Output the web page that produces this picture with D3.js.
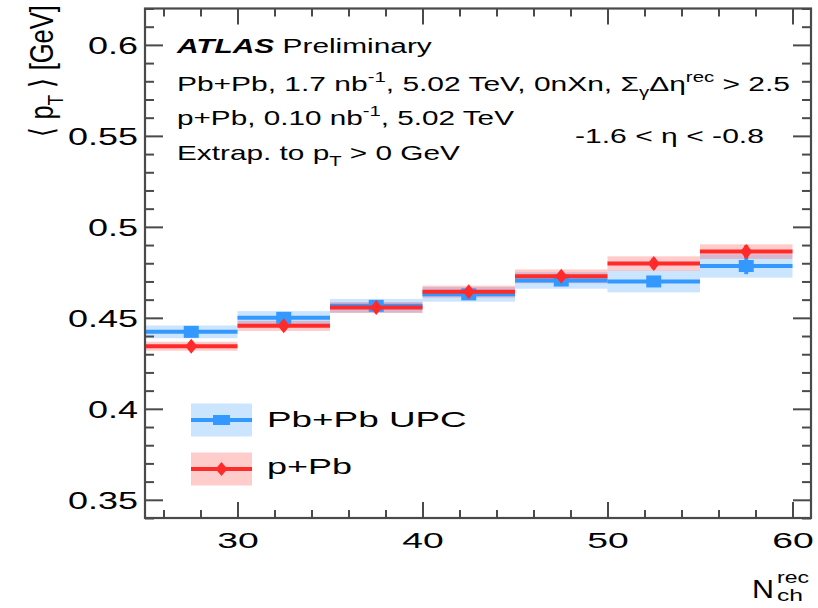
<!DOCTYPE html>
<html><head><meta charset="utf-8">
<script src="https://cdn.jsdelivr.net/npm/d3@7"></script>
<style>
body{margin:0;background:#fff}
svg{display:block}
text{font-family:"Liberation Sans",Arial,Helvetica,sans-serif;fill:#000}
</style>
</head><body>
<svg id="c" width="818" height="608"></svg>
<script>
// ---------- data ----------
const binLo = [25, 30, 35, 40, 45, 50, 55];
const binHi = [30, 35, 40, 45, 50, 55, 60];
const upcMean = [0.4423, 0.4500, 0.4566, 0.4629, 0.4705, 0.4700, 0.4785];
const upcSyst = [0.0035, 0.0037, 0.0038, 0.0040, 0.0045, 0.0060, 0.0064];
const upcStat = [0.0010, 0.0010, 0.0012, 0.0014, 0.0018, 0.0025, 0.0045];
const ppbMean = [0.4344, 0.4456, 0.4557, 0.4644, 0.4728, 0.4798, 0.4864];
const ppbSyst = [0.0025, 0.0028, 0.0030, 0.0033, 0.0038, 0.0040, 0.0040];
const ppbStat = [0.0015, 0.0015, 0.0018, 0.0020, 0.0025, 0.0030, 0.0035];
const seriesNames = ["Pb+Pb UPC", "p+Pb"];
const xTickValues = [30, 40, 50, 60];
const xTickLabels = ["30", "40", "50", "60"];
const yTickValues = [0.35, 0.4, 0.45, 0.5, 0.55, 0.6];
const yTickLabels = ["0.35", "0.4", "0.45", "0.5", "0.55", "0.6"];

// ---------- layout ----------
const svg = d3.select("#c");
const L = 145, R = 811, T = 8.5, B = 518;
const x = d3.scaleLinear().domain([25, 61]).range([L, R]);
const y = d3.scaleLinear().domain([0.34, 0.62]).range([B, T]);
const axisCol = "#4a4a4a";
const blue = "#3399ff", red = "#ff2b2b";

svg.append("defs").append("clipPath").attr("id", "plotclip")
  .append("rect").attr("x", L).attr("y", T).attr("width", R - L).attr("height", B - T);

// rich text helper
function rich(parent, parts, size) {
  const t = parent.append("text").attr("font-size", size);
  let cur = 0;
  parts.forEach(p => {
    const shift = p.s === "sup" ? -0.42 * size : p.s === "sub" ? 0.3 * size : 0;
    const ts = t.append("tspan").text(p.t).attr("dy", shift - cur);
    if (p.s) ts.attr("font-size", size * 0.68);
    if (p.b) ts.attr("font-weight", "bold").attr("font-style", "italic");
    cur = shift;
  });
  return t;
}
function fitted(parts, size, x0, base, targetW) {
  const g = svg.append("g");
  const t = rich(g, parts, size);
  const w = t.node().getBBox().width;
  g.attr("transform", `translate(${x0},${base}) scale(${targetW / w},1)`);
  return g;
}

// ---------- data layer ----------
const plot = svg.append("g").attr("clip-path", "url(#plotclip)");
const idx = d3.range(binLo.length);

// bands
plot.selectAll("rect.bu").data(idx).join("rect")
  .attr("x", i => x(binLo[i])).attr("width", i => x(binHi[i]) - x(binLo[i]))
  .attr("y", i => y(upcMean[i] + upcSyst[i]))
  .attr("height", i => y(upcMean[i] - upcSyst[i]) - y(upcMean[i] + upcSyst[i]))
  .attr("fill", blue).attr("fill-opacity", 0.25);
plot.selectAll("rect.br").data(idx).join("rect")
  .attr("x", i => x(binLo[i])).attr("width", i => x(binHi[i]) - x(binLo[i]))
  .attr("y", i => y(ppbMean[i] + ppbSyst[i]))
  .attr("height", i => y(ppbMean[i] - ppbSyst[i]) - y(ppbMean[i] + ppbSyst[i]))
  .attr("fill", "#ff0000").attr("fill-opacity", 0.2);

function drawSeries(mean, stat, col, marker) {
  const g = plot.append("g");
  g.selectAll("line.h").data(idx).join("line")
    .attr("x1", i => x(binLo[i])).attr("x2", i => x(binHi[i]))
    .attr("y1", i => y(mean[i])).attr("y2", i => y(mean[i]))
    .attr("stroke", col).attr("stroke-width", 4);
  g.selectAll("line.v").data(idx).join("line")
    .attr("x1", i => x((binLo[i] + binHi[i]) / 2)).attr("x2", i => x((binLo[i] + binHi[i]) / 2))
    .attr("y1", i => y(mean[i] + stat[i])).attr("y2", i => y(mean[i] - stat[i]))
    .attr("stroke", col).attr("stroke-width", 4);
  g.selectAll("path.m").data(idx).join("path")
    .attr("transform", i => `translate(${x((binLo[i] + binHi[i]) / 2)},${y(mean[i])})`)
    .attr("d", marker).attr("fill", col);
}
const squareM = "M-7.5,-6H7.5V6H-7.5Z";
const diamondM = "M0,-7.5L6,0L0,7.5L-6,0Z";
drawSeries(upcMean, upcStat, blue, squareM);
drawSeries(ppbMean, ppbStat, red, diamondM);

// ---------- axes ----------
const yMinor = d3.range(34, 63).map(v => v / 100).filter(v => !yTickValues.some(m => Math.abs(m - v) < 1e-6));
const xMinor = d3.range(26, 61, 2).filter(v => v % 10 !== 0);

function styleAxis(g) {
  g.select(".domain").remove();
  g.selectAll("line").attr("stroke", axisCol).attr("stroke-width", 2);
}
// left
svg.append("g").attr("transform", `translate(${L},0)`)
  .call(d3.axisLeft(y).tickValues(yMinor).tickSize(-9).tickFormat(""))
  .call(styleAxis);
const yAx = svg.append("g").attr("transform", `translate(${L},0)`)
  .call(d3.axisLeft(y).tickValues(yTickValues).tickSize(-18).tickPadding(0)
    .tickFormat((d, i) => yTickLabels[i]))
  .call(styleAxis);
yAx.selectAll("text").attr("font-size", 23).attr("fill", "#000")
  .attr("font-family", '"Liberation Sans",Arial,sans-serif');
{
  const w0 = yAx.selectAll("text").filter((d, i) => i === 5).node().getBBox().width;
  const sx = 50 / w0;
  yAx.selectAll("text").attr("x", null).attr("dy", null)
    .attr("transform", `translate(-7,9) scale(${sx},1)`);
}
// right
svg.append("g").attr("transform", `translate(${R},0)`)
  .call(d3.axisRight(y).tickValues(yMinor).tickSize(-9).tickFormat(""))
  .call(styleAxis);
svg.append("g").attr("transform", `translate(${R},0)`)
  .call(d3.axisRight(y).tickValues(yTickValues).tickSize(-18).tickFormat(""))
  .call(styleAxis);
// bottom
svg.append("g").attr("transform", `translate(0,${B})`)
  .call(d3.axisBottom(x).tickValues(xMinor).tickSize(-8).tickFormat(""))
  .call(styleAxis);
const xAx = svg.append("g").attr("transform", `translate(0,${B})`)
  .call(d3.axisBottom(x).tickValues(xTickValues).tickSize(-16).tickPadding(0)
    .tickFormat((d, i) => xTickLabels[i]))
  .call(styleAxis);
xAx.selectAll("text").attr("font-size", 22).attr("fill", "#000")
  .attr("font-family", '"Liberation Sans",Arial,sans-serif');
{
  const w0 = xAx.selectAll("text").node().getBBox().width;
  const sx = 41.5 / w0;
  xAx.selectAll("text").attr("y", null).attr("dy", null)
    .attr("transform", `translate(0,29.5) scale(${sx},1)`);
}
// top
svg.append("g").attr("transform", `translate(0,${T})`)
  .call(d3.axisTop(x).tickValues(xMinor).tickSize(-8).tickFormat(""))
  .call(styleAxis);
svg.append("g").attr("transform", `translate(0,${T})`)
  .call(d3.axisTop(x).tickValues(xTickValues).tickSize(-16).tickFormat(""))
  .call(styleAxis);
// frame
svg.append("rect").attr("x", L).attr("y", T).attr("width", R - L).attr("height", B - T)
  .attr("fill", "none").attr("stroke", axisCol).attr("stroke-width", 2.2);

// ---------- axis titles ----------
{
  const g = svg.append("g").attr("transform", "translate(53,137) scale(1.3,1) rotate(-90)");
  rich(g, [{t: "\u27E8 p"}, {t: "T", s: "sub"}, {t: " \u27E9 [GeV]"}], 25.5);
}
fitted([{t: "N"}], 25, 752, 598, 22);
fitted([{t: "rec"}], 16, 777, 583, 32);
fitted([{t: "ch"}], 16, 777, 600.5, 26);

// ---------- annotation text ----------
fitted([{t: "ATLAS", b: true}, {t: " Preliminary"}], 21, 177, 53, 257);
fitted([{t: "Pb+Pb, 1.7 nb"}, {t: "-1", s: "sup"}, {t: ", 5.02 TeV, 0nXn, \u03A3"}, {t: "\u03B3", s: "sub"},
        {t: "\u0394\u03B7"}, {t: "rec", s: "sup"}, {t: " > 2.5"}], 21, 177, 91, 613);
fitted([{t: "p+Pb, 0.10 nb"}, {t: "-1", s: "sup"}, {t: ", 5.02 TeV"}], 21, 177, 125, 337);
fitted([{t: "-1.6 < \u03B7 < -0.8"}], 21, 575, 143, 189);
fitted([{t: "Extrap. to p"}, {t: "T", s: "sub"}, {t: " > 0 GeV"}], 21, 177, 160, 283);

// ---------- legend ----------
const legend = [
  {name: seriesNames[0], col: blue, band: blue, op: 0.25, m: "M-8.5,-5H8.5V5H-8.5Z", yc: 420, base: 427, w: 200},
  {name: seriesNames[1], col: red, band: "#ff0000", op: 0.2, m: "M0,-7L6,0L0,7L-6,0Z", yc: 469, base: 474, w: 85}
];
legend.forEach(d => {
  svg.append("rect").attr("x", 191).attr("y", d.yc - 16.5).attr("width", 61).attr("height", 33)
    .attr("fill", d.band).attr("fill-opacity", d.op);
  svg.append("line").attr("x1", 191).attr("x2", 252).attr("y1", d.yc).attr("y2", d.yc)
    .attr("stroke", d.col).attr("stroke-width", 4);
  svg.append("path").attr("transform", `translate(221.5,${d.yc})`).attr("d", d.m).attr("fill", d.col);
  fitted([{t: d.name}], 22, 267, d.base, d.w);
});
</script>
</body></html>
